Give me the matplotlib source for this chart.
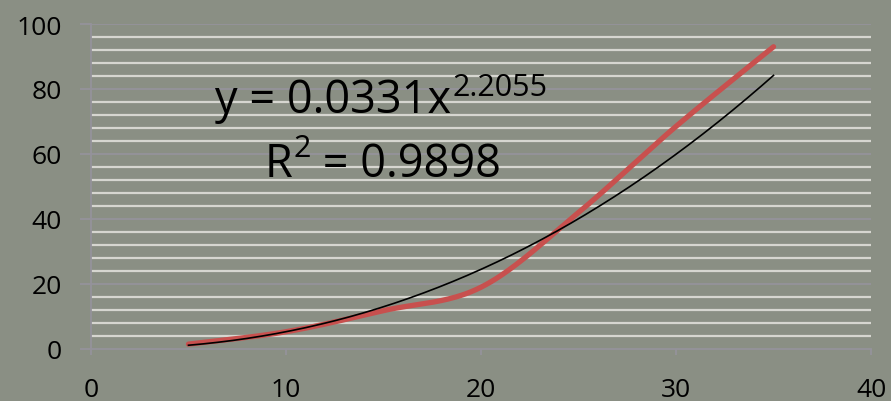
import numpy as np
import matplotlib
matplotlib.use("Agg")
import matplotlib.pyplot as plt

# measured points and power-law fit
x_data = [5, 10, 15, 20, 25, 30, 35]
y_data = [1.5, 5.3, 11.8, 19.0, 42.0, 68.5, 93.0]
coef_a = 0.0331
coef_b = 2.2055
r_squared = 0.9898

x_ticks = [0, 10, 20, 30, 40]
y_ticks = [0, 20, 40, 60, 80, 100]

BG = "#8a8f84"
RED = "#c8504e"
MAJOR = "#95939b"
MINOR = "#d6d6d0"

plt.rcParams["font.family"] = ["Open Sans", "DejaVu Sans"]


def smooth(xs, ys, n=40):
    # bezier segments with catmull-rom tangents (same idea as a "smoothed line")
    px = np.array(xs, float)
    py = np.array(ys, float)
    ox, oy = [], []
    for i in range(len(px) - 1):
        i0 = max(i - 1, 0)
        i3 = min(i + 2, len(px) - 1)
        c1x = px[i] + (px[i + 1] - px[i0]) / 6
        c1y = py[i] + (py[i + 1] - py[i0]) / 6
        c2x = px[i + 1] - (px[i3] - px[i]) / 6
        c2y = py[i + 1] - (py[i3] - py[i]) / 6
        t = np.linspace(0, 1, n)
        ox.extend((1 - t) ** 3 * px[i] + 3 * (1 - t) ** 2 * t * c1x + 3 * (1 - t) * t ** 2 * c2x + t ** 3 * px[i + 1])
        oy.extend((1 - t) ** 3 * py[i] + 3 * (1 - t) ** 2 * t * c1y + 3 * (1 - t) * t ** 2 * c2y + t ** 3 * py[i + 1])
    return ox, oy


fig = plt.figure(figsize=(8.91, 4.02), dpi=100, facecolor=BG)
ax = fig.add_axes([0.1021, 0.1294, 0.8755, 0.8084], facecolor=BG)

# grid: light minor lines every 4, grey major lines every 20
for v in np.arange(4, 100, 4):
    if v % 20:
        ax.axhline(v, color=MINOR, lw=1.6, zorder=1)
for v in y_ticks[1:]:
    ax.axhline(v, color=MAJOR, lw=1.3, zorder=1)

sx, sy = smooth(x_data, y_data)
ax.plot(sx, sy, color=RED, lw=3.8, solid_capstyle="round", zorder=3)

xf = np.linspace(min(x_data), max(x_data), 200)
ax.plot(xf, coef_a * xf ** coef_b, color="black", lw=1.2, zorder=4)

ax.set_xlim(0, 40)
ax.set_ylim(0, 100)
ax.set_xticks(x_ticks)
ax.set_yticks(y_ticks)
ax.tick_params(axis="y", length=8, width=1.3, color=MAJOR, pad=13, labelsize=19)
ax.tick_params(axis="x", length=4, width=1.3, color=MAJOR, pad=16, labelsize=19)
for s in ["top", "right"]:
    ax.spines[s].set_visible(False)
for s in ["left", "bottom"]:
    ax.spines[s].set_color(MAJOR)
    ax.spines[s].set_linewidth(1.3)

# trendline equation, pieces laid out in pixels on a shared baseline
renderer = fig.canvas.get_renderer()


def piece(x, y, s, size):
    t = fig.text(x, y, s, transform=None, fontsize=size, ha="left",
                 va="baseline", zorder=5)
    return x + t.get_window_extent(renderer).width


H = 402
end = piece(215, H - 113, "y = %.4fx" % coef_a, 32.5)
piece(end + 1, H - 96, "%.4f" % coef_b, 22)
end = piece(265, H - 177, "R", 32.5)
end = piece(end + 1, H - 157, "2", 22)
piece(end, H - 177, " = %.4f" % r_squared, 32.5)

fig.savefig("out.png", dpi=100, facecolor=BG)
